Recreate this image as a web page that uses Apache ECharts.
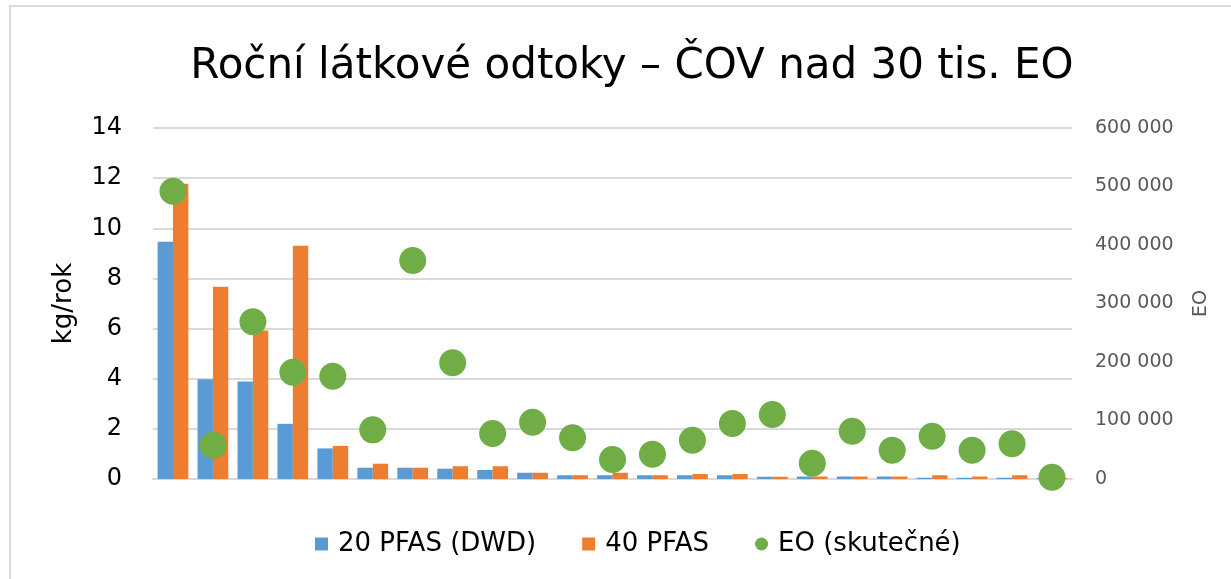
<!DOCTYPE html>
<html>
<head>
<meta charset="utf-8">
<script src="https://cdn.jsdelivr.net/npm/echarts@6/dist/echarts.min.js"></script>
<style>
  html, body { margin: 0; padding: 0; background: #fff; }
  #chart { width: 1231px; height: 579px; }
</style>
</head>
<body>
<div id="chart"></div>
<script>
// jednotlivé ČOV (popisky se v grafu nezobrazují)
const categories = ['1', '2', '3', '4', '5', '6', '7', '8', '9', '10', '11', '12',
  '13', '14', '15', '16', '17', '18', '19', '20', '21', '22', '23']
// kg/rok
const pfas20 = [9.46, 3.98, 3.89, 2.20, 1.22, 0.45, 0.45, 0.41, 0.36, 0.25, 0.15, 0.15,
  0.15, 0.15, 0.15, 0.09, 0.10, 0.10, 0.10, 0.05, 0.05, 0.05, 0.04]
const pfas40 = [11.78, 7.67, 5.92, 9.30, 1.32, 0.61, 0.45, 0.51, 0.51, 0.25, 0.15, 0.25,
  0.15, 0.20, 0.20, 0.09, 0.10, 0.10, 0.10, 0.15, 0.10, 0.15, 0.04]
// EO (skutečné)
const eo = [492000, 57800, 268700, 182600, 175700, 84000, 373500, 198600, 77800, 97100, 70400, 33300,
  42400, 66300, 94900, 110300, 27000, 81700, 49200, 73200, 49200, 60200, 3000]

const seriesNames = ['20 PFAS (DWD)', '40 PFAS', 'EO (skutečné)']
const font = '"DejaVu Sans", sans-serif'

const chart = echarts.init(document.getElementById('chart'))

const option = {
  backgroundColor: '#fff',
  animation: false,
  textStyle: { fontFamily: font },
  title: {
    text: 'Roční látkové odtoky – ČOV nad 30 tis. EO',
    left: 627,
    top: 38,
    textAlign: 'center',
    textStyle: { fontFamily: font, fontSize: 42, fontWeight: 'normal', color: '#000', lineHeight: 48 }
  },
  graphic: [{
    type: 'polyline',
    shape: { points: [[10, 579], [10, 6], [1231, 6]] },
    style: { stroke: '#d9d9d9', lineWidth: 2, fill: null }
  }],
  legend: {
    top: 526,
    left: 310,
    itemWidth: 13,
    itemHeight: 13,
    itemGap: 46,
    textStyle: { fontFamily: font, fontSize: 26, color: '#000', padding: [0, 0, 0, 5] },
    data: [
      { name: seriesNames[0], icon: 'rect' },
      { name: seriesNames[1], icon: 'rect' },
      { name: seriesNames[2], icon: 'circle', itemStyle: { color: '#70ad47' } }
    ]
  },
  grid: { left: 153, right: 159, top: 128, bottom: 100 },
  xAxis: {
    type: 'category',
    data: categories,
    axisLine: { lineStyle: { color: '#d9d9d9', width: 2 } },
    axisTick: { show: false },
    axisLabel: { show: false }
  },
  yAxis: [{
    type: 'value',
    min: 0,
    max: 14,
    interval: 2,
    name: 'kg/rok',
    nameLocation: 'middle',
    nameGap: 76,
    nameRotate: 90,
    nameTextStyle: { fontFamily: font, fontSize: 26, color: '#000' },
    axisLine: { show: false },
    axisTick: { show: false },
    axisLabel: { fontFamily: font, fontSize: 24, color: '#000', margin: 31 },
    splitLine: { lineStyle: { color: '#d9d9d9', width: 2 } }
  }, {
    type: 'value',
    min: 0,
    max: 600000,
    interval: 100000,
    position: 'right',
    name: 'EO',
    nameLocation: 'middle',
    nameGap: 120,
    nameRotate: 90,
    nameTextStyle: { fontFamily: font, fontSize: 19, color: '#595959' },
    axisLine: { show: false },
    axisTick: { show: false },
    splitLine: { show: false },
    axisLabel: {
      fontFamily: font,
      fontSize: 19,
      color: '#595959',
      margin: 23,
      formatter: v => String(v).replace(/\B(?=(\d{3})+(?!\d))/g, ' ')
    }
  }],
  series: [{
    name: seriesNames[0],
    type: 'bar',
    data: pfas20,
    barWidth: '38.5%',
    barGap: '0%',
    itemStyle: { color: '#5b9bd5' }
  }, {
    name: seriesNames[1],
    type: 'bar',
    data: pfas40,
    barWidth: '38.5%',
    barGap: '0%',
    itemStyle: { color: '#ed7d31' }
  }, {
    name: seriesNames[2],
    type: 'scatter',
    yAxisIndex: 1,
    data: eo,
    symbolSize: 27,
    itemStyle: { color: '#70ad47', opacity: 1 }
  }]
}

chart.setOption(option)
</script>
</body>
</html>
